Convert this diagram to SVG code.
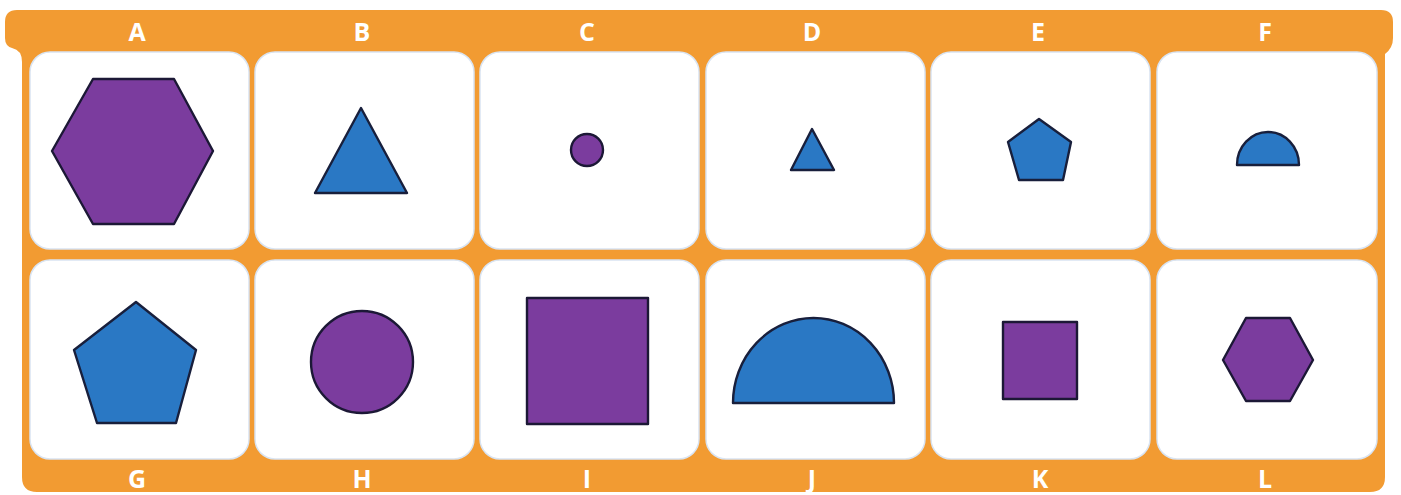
<svg xmlns="http://www.w3.org/2000/svg" width="1401" height="495" viewBox="0 0 1401 495">
<defs>
<style>
.frame{fill:#f29b32}
.card{fill:#ffffff;stroke:#d9e4f2;stroke-width:1.5}
.purple{fill:#7b3c9e;stroke:#1c1836;stroke-width:2.4;stroke-linejoin:round}
.blue{fill:#2a78c4;stroke:#181f3c;stroke-width:2.4;stroke-linejoin:round}
.lbl{font-family:"Open Sans","Liberation Sans",sans-serif;font-weight:700;font-size:25px;fill:#ffffff;text-anchor:middle}
</style>
</defs>
<rect width="1401" height="495" fill="#ffffff"/>
<path class="frame" d="M 17 10 H 1381 Q 1393 10 1393 22 V 38 Q 1393 48 1385 54 V 477 Q 1385 492 1370 492 H 37 Q 22 492 22 477 V 62 Q 22 50 12 48 Q 5 46 5 38 V 22 Q 5 10 17 10 Z"/>
<g id="labels-top">
<text class="lbl" x="137" y="41">A</text>
<text class="lbl" x="362" y="41">B</text>
<text class="lbl" x="587" y="41">C</text>
<text class="lbl" x="812" y="41">D</text>
<text class="lbl" x="1038" y="41">E</text>
<text class="lbl" x="1265" y="41">F</text>
</g>
<g id="labels-bottom">
<text class="lbl" x="137" y="488">G</text>
<text class="lbl" x="362" y="488">H</text>
<text class="lbl" x="587" y="488">I</text>
<text class="lbl" x="812" y="488">J</text>
<text class="lbl" x="1040" y="488">K</text>
<text class="lbl" x="1265" y="488">L</text>
</g>
<g id="A"><rect class="card" x="30" y="52" width="219" height="197" rx="20"/>
<polygon class="purple" points="52,151 93,79 174,79 213,151 174,224 93,224"/></g>
<g id="B"><rect class="card" x="255" y="52" width="219" height="197" rx="20"/>
<polygon class="blue" points="361,108 407,193 315,193"/></g>
<g id="C"><rect class="card" x="480" y="52" width="219" height="197" rx="20"/>
<circle class="purple" cx="587" cy="150" r="16"/></g>
<g id="D"><rect class="card" x="706" y="52" width="219" height="197" rx="20"/>
<polygon class="blue" points="812,129 834,170 791,170"/></g>
<g id="E"><rect class="card" x="931" y="52" width="219" height="197" rx="20"/>
<polygon class="blue" points="1039,119 1071,142 1063,180 1019,180 1008,142"/></g>
<g id="F"><rect class="card" x="1157" y="52" width="220" height="197" rx="20"/>
<path class="blue" d="M 1237 165 A 31 33 0 0 1 1299 165 Z"/></g>
<g id="G"><rect class="card" x="30" y="260" width="219" height="199" rx="20"/>
<polygon class="blue" points="136,302 196,350 176,423 97,423 74,350"/></g>
<g id="H"><rect class="card" x="255" y="260" width="219" height="199" rx="20"/>
<circle class="purple" cx="362" cy="362" r="51"/></g>
<g id="I"><rect class="card" x="480" y="260" width="219" height="199" rx="20"/>
<rect class="purple" x="527" y="298" width="121" height="126"/></g>
<g id="J"><rect class="card" x="706" y="260" width="219" height="199" rx="20"/>
<path class="blue" d="M 733 403 A 80.5 85 0 0 1 894 403 Z"/></g>
<g id="K"><rect class="card" x="931" y="260" width="219" height="199" rx="20"/>
<rect class="purple" x="1003" y="322" width="74" height="77"/></g>
<g id="L"><rect class="card" x="1157" y="260" width="220" height="199" rx="20"/>
<polygon class="purple" points="1223,360 1246,318 1290,318 1313,360 1290,401 1246,401"/></g>
<g id="connectors"></g>
</svg>
